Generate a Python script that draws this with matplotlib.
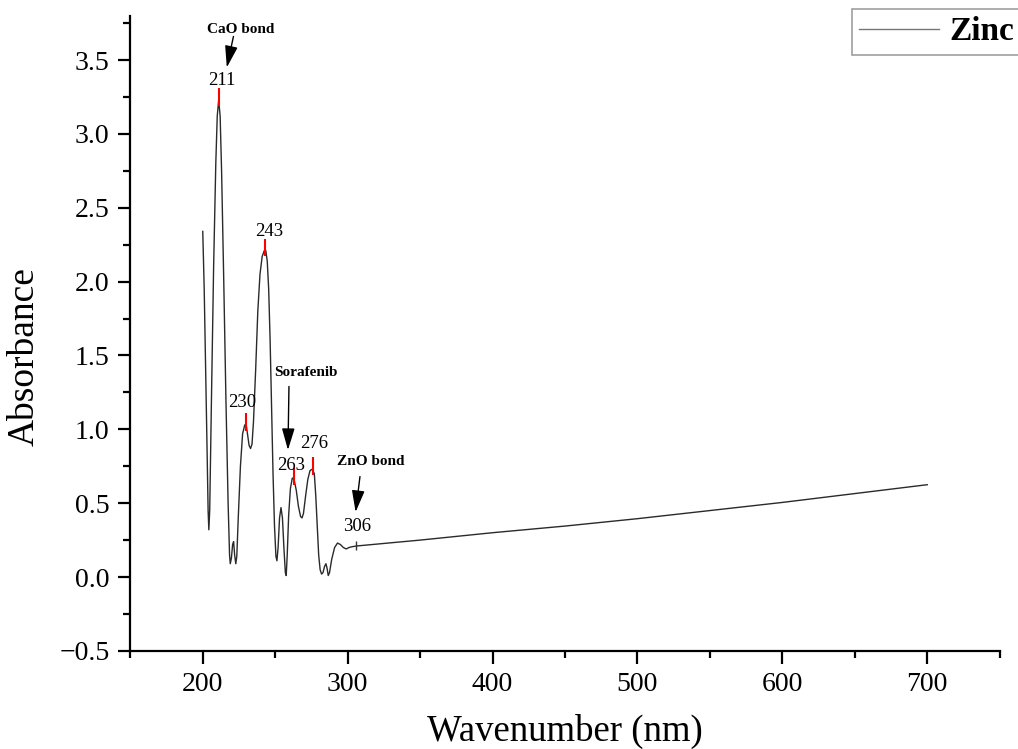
import matplotlib
matplotlib.use("Agg")
import matplotlib.pyplot as plt
from matplotlib.ticker import MultipleLocator

plt.rcParams['font.family'] = ['Liberation Serif', 'DejaVu Serif']

# spectrum
wavelength = [200, 201, 202, 203, 203.7, 204.2, 204.8, 206, 207.5, 209, 210, 211, 212, 213,
              214.5, 216, 217.5, 218.5, 219, 219.8, 220.6, 221.3, 222, 222.8, 223.5, 224.5,
              226, 227.5, 229, 230, 231, 232, 233, 234, 235, 236.5, 238, 239.5, 241, 242.5,
              243.5, 244.5, 245.5, 246.5, 247.5, 248.5, 249.5, 250.5, 251.2, 252, 253, 254,
              255, 256, 257, 257.6, 258.3, 259.3, 260.5, 261.8, 263, 264.5, 266, 267.5, 268.5,
              269.5, 271, 272.5, 274, 275.5, 277, 278, 279, 280, 281, 282, 283, 284, 285,
              285.8, 286.6, 287.5, 289, 291, 293, 295, 297, 299, 301, 303, 306, 350, 400,
              450, 500, 550, 600, 650, 700]
absorbance = [2.34, 1.95, 1.4, 0.85, 0.45, 0.32, 0.45, 1.2, 2.1, 2.8, 3.12, 3.23, 3.12, 2.75,
              2.0, 1.2, 0.5, 0.15, 0.09, 0.13, 0.22, 0.24, 0.15, 0.09, 0.14, 0.4,
              0.75, 0.97, 1.03, 1.03, 0.96, 0.89, 0.87, 0.9, 1.05, 1.4, 1.8, 2.05, 2.17, 2.21,
              2.21, 2.14, 1.95, 1.6, 1.15, 0.7, 0.35, 0.14, 0.11, 0.2, 0.4, 0.47,
              0.4, 0.2, 0.03, 0.01, 0.15, 0.42, 0.6, 0.67, 0.66, 0.59, 0.48, 0.41, 0.40,
              0.43, 0.55, 0.66, 0.72, 0.73, 0.7, 0.55, 0.35, 0.15, 0.05, 0.02, 0.03, 0.07, 0.09,
              0.06, 0.01, 0.03, 0.12, 0.2, 0.23, 0.22, 0.2, 0.19, 0.2, 0.205, 0.21, 0.25, 0.30,
              0.345, 0.395, 0.45, 0.505, 0.565, 0.625]

peak_x = [211, 230, 243, 263, 276]
peak_y = [3.23, 1.03, 2.21, 0.66, 0.73]
peak_labels = ['211', '230', '243', '263', '276']
label_pos = [(213.1, 3.36), (227.4, 1.18), (245.7, 2.34), (260.7, 0.757), (277.2, 0.907)]

fig = plt.figure(figsize=(10.18, 7.49), dpi=100)
ax = fig.add_axes([0.128, 0.131, 0.854, 0.848])

ax.plot(wavelength, absorbance, color='#2a2a2a', lw=1, label='Zinc')

# red peak markers
ax.vlines(peak_x, [y - 0.04 for y in peak_y], [y + 0.08 for y in peak_y], color='red', lw=1.5)
for lab, (lx, ly) in zip(peak_labels, label_pos):
    ax.text(lx, ly, lab, ha='center', va='center', fontsize=13.5)

# 306 point
ax.vlines([306], [0.18], [0.245], color='#333333', lw=1)
ax.text(306.7, 0.34, '306', ha='center', va='center', fontsize=13.5)

arrow = dict(arrowstyle='-|>,head_length=0.95,head_width=0.28', color='black', lw=1,
             mutation_scale=14, shrinkA=0, shrinkB=0)
ax.text(225.9, 3.71, 'CaO bond', ha='center', va='center', fontsize=11, fontweight='bold')
ax.annotate('', xy=(216.6, 3.45), xytext=(221.2, 3.66), arrowprops=arrow)
ax.text(271, 1.385, 'Sorafenib', ha='center', va='center', fontsize=11, fontweight='bold')
ax.annotate('', xy=(258.8, 0.86), xytext=(259.5, 1.29), arrowprops=arrow)
ax.text(315.9, 0.78, 'ZnO bond', ha='center', va='center', fontsize=11, fontweight='bold')
ax.annotate('', xy=(305.5, 0.44), xytext=(308.5, 0.68), arrowprops=arrow)

ax.set_xlim(150, 750)
ax.set_ylim(-0.5, 3.8)
ax.xaxis.set_minor_locator(MultipleLocator(50))
ax.yaxis.set_minor_locator(MultipleLocator(0.25))
ax.set_xticks(range(200, 701, 100))
ax.set_yticks([-0.5, 0, 0.5, 1.0, 1.5, 2.0, 2.5, 3.0, 3.5])
ax.yaxis.set_major_formatter(plt.FuncFormatter(lambda v, p: f"{v:.1f}".replace('-', '\u2212')))

for s in ['top', 'right']:
    ax.spines[s].set_visible(False)
for s in ['left', 'bottom']:
    ax.spines[s].set_linewidth(1.6)
ax.tick_params(which='major', direction='out', length=9, width=1.6, labelsize=20, pad=6)
ax.tick_params(which='minor', direction='out', length=5, width=1.6)

ax.set_xlabel('Wavenumber (nm)', fontsize=26.5, labelpad=12)
ax.set_ylabel('Absorbance', fontsize=27)
ax.yaxis.set_label_coords(-0.102, 0.463)

leg = ax.legend(loc='upper left', bbox_to_anchor=(0.837, 0.988), bbox_transform=fig.transFigure,
                prop={'weight': 'bold', 'size': 24}, frameon=True, fancybox=False,
                handlelength=2.4, borderpad=0.22, handletextpad=0.3, borderaxespad=0)
leg.get_frame().set_edgecolor('#888888')
leg.get_frame().set_linewidth(1.2)
for h in leg.get_lines():
    h.set_color('#777777')

fig.savefig('out.png', dpi=100)
